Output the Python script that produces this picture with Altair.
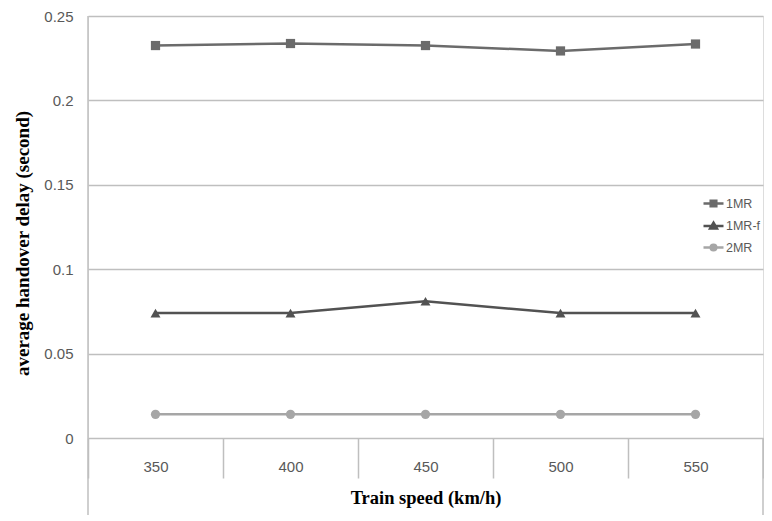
import altair as alt
import pandas as pd

speeds = [350, 400, 450, 500, 550]
series_names = ["1MR", "1MR-f", "2MR"]
delay_1mr = [0.2325, 0.2337, 0.2325, 0.2293, 0.2334]
delay_1mrf = [0.074, 0.074, 0.081, 0.074, 0.074]
delay_2mr = [0.014, 0.014, 0.014, 0.014, 0.014]
y_ticks = [0, 0.05, 0.1, 0.15, 0.2, 0.25]

line_colors = ["#6b6b6b", "#525252", "#a6a6a6"]
marker_shapes = ["square", "triangle-up", "circle"]
marker_sizes = [85, 100, 85]
legend_symbols = [
    "M-1,0H1M-0.28,-0.28H0.28V0.28H-0.28Z",
    "M-1,0H1M0,-0.34L0.34,0.24H-0.34Z",
    "M-1,0H1M-0.28,0A0.28,0.28,0,1,0,0.28,0A0.28,0.28,0,1,0,-0.28,0Z",
]

rows = []
for name, vals in zip(series_names, [delay_1mr, delay_1mrf, delay_2mr]):
    for s, v in zip(speeds, vals):
        rows.append({"speed": s, "series": name, "delay": v})
df = pd.DataFrame(rows)

# legend keys carry a trailing space so the legend's domain differs from the
# (legend-less) colour scale of the lines and is not merged away with it
legend_keys = [n + " " for n in series_names]

W, H = 675, 422
GRID = "#bfbfbf"
LABEL = "#595959"

x_enc = alt.X(
    "speed:O",
    bandPosition=0.5,
    scale=alt.Scale(type="band", paddingInner=0, paddingOuter=0),
    axis=alt.Axis(
        title="Train speed (km/h)",
        tickBand="extent",
        tickSize=40,
        tickColor=GRID,
        tickWidth=1.5,
        domain=False,
        grid=False,
        labelAngle=0,
        labelPadding=-19,
        labelFontSize=15,
        labelColor=LABEL,
        labelFont="Liberation Sans",
        titleFont="Liberation Serif",
        titleFontWeight="bold",
        titleFontSize=18.5,
        titleColor="black",
        titleX=337.5,
        titleY=59,
        titleBaseline="middle",
    ),
)
y_enc = alt.Y(
    "delay:Q",
    scale=alt.Scale(domain=[0, 0.25], nice=False),
    axis=alt.Axis(
        values=y_ticks,
        format=".2~f",
        title="average handover delay (second)",
        grid=True,
        gridColor=GRID,
        gridWidth=1.5,
        domain=False,
        ticks=False,
        labelPadding=15,
        labelFontSize=15,
        labelColor=LABEL,
        labelFont="Liberation Sans",
        titleFont="Liberation Serif",
        titleFontWeight="bold",
        titleFontSize=19,
        titleColor="black",
        titleX=-66,
        titleY=227,
        titleAngle=-90,
        titleBaseline="middle",
        titleAlign="center",
    ),
)
color_enc = alt.Color(
    "series:N", scale=alt.Scale(domain=series_names, range=line_colors), legend=None
)

lines = alt.Chart(df).mark_line(strokeWidth=2.5).encode(x=x_enc, y=y_enc, color=color_enc)

point_layers = []
for name, shp, sz, col in zip(series_names, marker_shapes, marker_sizes, line_colors):
    point_layers.append(
        alt.Chart(df)
        .transform_filter(alt.datum.series == name)
        .mark_point(filled=True, shape=shp, size=sz, opacity=1, color=col)
        .encode(x=x_enc, y=y_enc)
    )

leg = alt.Legend(
    title=None,
    orient="none",
    legendX=614,
    legendY=176,
    padding=0,
    symbolSize=400,
    symbolStrokeWidth=2.5,
    symbolOpacity=1,
    labelFontSize=12.5,
    labelColor=LABEL,
    labelFont="Liberation Sans",
    labelOffset=1,
    rowPadding=2.5,
    labelExpr="trim(datum.label)",
)
legend_layer = (
    alt.Chart(df)
    .transform_calculate(Series="datum.series + ' '")
    .mark_point(filled=True, size=400, opacity=0, strokeWidth=2.5)
    .encode(
        x=x_enc,
        y=y_enc,
        shape=alt.Shape("Series:N", scale=alt.Scale(domain=legend_keys, range=legend_symbols), legend=leg),
        fill=alt.Fill("Series:N", scale=alt.Scale(domain=legend_keys, range=line_colors), legend=leg),
        stroke=alt.Stroke("Series:N", scale=alt.Scale(domain=legend_keys, range=line_colors), legend=leg),
    )
)

one = alt.Data(values=[{"a": 1}])
left_line = alt.Chart(one).mark_rule(color=GRID, strokeWidth=1.5).encode(
    x=alt.value(0), y=alt.value(0), y2=alt.value(H + 77)
)
right_line = alt.Chart(one).mark_rule(color=GRID, strokeWidth=1.5).encode(
    x=alt.value(W), y=alt.value(H), y2=alt.value(H + 77)
)

chart = (
    alt.layer(left_line, right_line, lines, *point_layers, legend_layer)
    .properties(
        width=W,
        height=H,
        autosize=alt.AutoSizeParams(type="none"),
        padding={"left": 80, "top": 8, "right": 1, "bottom": 80},
    )
    .configure_view(stroke=None)
    .configure(background="white")
)

chart.save("out.html", embed_options={"renderer": "svg", "actions": False})
